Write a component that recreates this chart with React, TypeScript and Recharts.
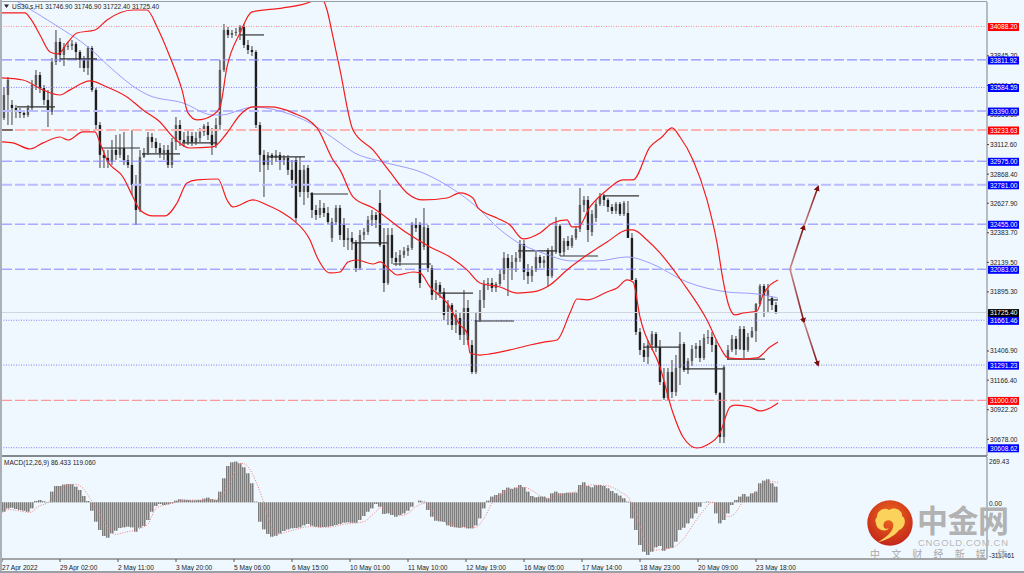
import { Bar, ComposedChart, Line, ReferenceLine, XAxis, YAxis } from 'recharts'

const FONT = '"Liberation Sans", Arial, sans-serif'

// US30 H1 candles, one for every second hour bar
const opens = [33332,33522,33440,33415,33382,33374,33357,33415,33605,33687,33580,33481,33382,33795,33960,33853,33919,33927,33944,33877,33811,33745,33910,33564,33274,33027,33002,32969,33068,33027,33084,32985,32944,32779,32572,33010,33043,33175,33134,33084,33043,33068,32944,33134,33274,33150,33134,33183,33134,33167,33217,33266,33192,33109,33274,33729,
  34059,34018,34034,34043,34084,33935,33894,33877,33274,33027,32944,33027,33002,33027,32985,33002,32903,32985,32903,32721,32919,32713,32572,32531,32589,32547,32341,32473,32589,32448,32324,32341,32308,32093,32366,32390,32490,32531,32630,32283,31969,32366,32176,32143,32200,32234,32258,32448,32448,32267,32423,32093,31911,31953,31895,31730,31787,31622,31680,31540,31763,31457,31234,31663,
  31829,31961,31969,31928,31961,32043,32176,32093,32143,32176,32291,32060,32027,32077,32184,32134,32242,32027,32225,32440,32225,32316,32275,32341,32415,32613,32655,32390,32506,32622,32688,32655,32597,32564,32622,32539,32547,32341,31994,31564,31416,31358,31457,31548,31440,31151,31019,31234,31069,31267,31465,31250,31325,31424,31449,31350,31515,31523,31457,31060,30697,31350,31416,31507,31424,31589,31416,31523,31573,31796,31944,31862,31845,31787]
const closes = [33522,33646,33415,33382,33374,33357,33415,33605,33687,33580,33481,33382,33795,33960,33853,33919,33927,33944,33877,33811,33745,33910,33564,33274,33027,33002,32969,33068,33027,33084,32985,32944,32779,32572,33010,33043,33175,33134,33084,33043,33068,32944,33134,33274,33150,33134,33183,33134,33167,33217,33266,33192,33109,33274,33729,34059,
  34018,34034,34043,34084,33935,33894,33877,33274,33027,32944,33027,33002,33027,32985,33002,32903,32820,32506,32721,32903,32721,32572,32531,32589,32547,32473,32473,32589,32366,32324,32341,32308,32093,32366,32390,32490,32531,32490,32283,31969,32366,32176,32143,32200,32234,32258,32448,32423,31969,32432,32093,31870,31969,31895,31705,31787,31622,31705,31540,31763,31498,31234,31663,31829,
  31961,31969,31928,31961,32043,32176,32093,32143,32176,32291,32060,32027,32077,32184,32134,32159,32027,32242,32440,32217,32316,32275,32341,32415,32613,32655,32407,32539,32622,32688,32655,32597,32564,32622,32539,32630,32341,31994,31564,31416,31358,31457,31548,31440,31151,31019,31234,31069,31267,31465,31250,31325,31424,31449,31350,31515,31523,31457,31060,30697,31275,31416,31507,31424,31589,31416,31523,31573,31796,31944,31862,31911,31787,31730]
const highs = [33588,33671,33481,33440,33415,33398,33440,33646,33729,33712,33605,33564,33828,34059,33993,33952,33960,33977,33960,33894,33844,33927,33927,33580,33299,33068,33068,33150,33192,33200,33217,33027,33233,32861,33068,33084,33217,33208,33167,33126,33109,33109,33167,33340,33316,33217,33233,33217,33217,33250,33283,33299,33250,33332,33811,34109,
  34084,34059,34076,34100,34109,33977,33927,33894,33299,33068,33051,33043,33068,33051,33027,33027,32985,33010,33010,32944,32944,32721,32613,32655,32630,32597,32506,32613,32613,32506,32423,32390,32324,32407,32423,32523,32572,32556,32737,32423,32423,32423,32225,32242,32267,32283,32473,32506,32473,32589,32448,32118,31994,31977,31928,31829,31804,31746,31730,31911,31829,31498,31730,31911,
  31994,32010,32010,31977,32077,32225,32209,32200,32225,32324,32324,32126,32110,32225,32200,32192,32258,32275,32514,32457,32341,32357,32366,32440,32754,32688,32688,32572,32655,32713,32705,32671,32622,32638,32638,32647,32647,32382,32010,31597,31473,31498,31573,31564,31498,31267,31267,31333,31374,31564,31482,31350,31457,31473,31498,31548,31581,31564,31498,31069,31292,31457,31540,31531,31614,31614,31556,31606,31804,31961,31961,31961,31862,31812]
const lows = [33316,33274,33274,33332,33332,33332,33340,33398,33564,33539,33440,33258,33357,33770,33795,33762,33894,33894,33811,33745,33712,33687,33547,33233,32919,32919,32919,32944,32985,33002,32944,32919,32696,32448,32556,33002,33027,33084,33043,33002,32985,32919,32919,33068,33101,33093,33109,33101,33109,33134,33183,33150,33027,33084,33233,33712,
  33993,33993,34010,33977,33910,33861,33844,33250,32886,32680,32903,32944,32969,32903,32944,32861,32754,32473,32680,32613,32671,32506,32490,32506,32514,32457,32308,32448,32324,32267,32242,32242,32060,32077,32324,32366,32440,32423,32267,31895,31953,32126,32110,32110,32176,32192,32242,32390,31928,32242,32060,31829,31829,31845,31663,31622,31581,31556,31498,31457,31457,31217,31217,31647,
  31763,31911,31895,31895,31944,31994,31862,31994,32060,32143,31994,31961,31977,32060,32093,32093,31936,32010,32209,32192,32192,32242,32258,32324,32390,32556,32308,32357,32473,32605,32605,32556,32539,32539,32523,32523,32341,32110,31540,31374,31316,31300,31416,31398,31127,31003,31003,31019,31036,31127,31234,31217,31283,31350,31316,31333,31465,31399,31044,30647,30647,31333,31399,31374,31416,31350,31399,31515,31482,31779,31688,31730,31746,31713]

// Bollinger bands and the moving average, read at their turning points
const upperBars = [0,11.5,14,19,24,28,33,37.5,46.5,52.5,65.5,72.5,77.5,84,90,93,97.5,105.5,109,112.5,119,125,140.5,154,159,162.5,165.5,169,175.5,185.5,194,202.5,210.5,222.5,229,235.5,238,247.5,254,260.5,269,275.5,282.5,285,288,294,302.5,310.5,315.5,324,330,335,339,345.5,352.5,357.5,360.5,363,366.5,370.5,377.5,380.5,388]
const upperValues = [34200,34200,34158,34018,33877,33861,33960,34034,34059,34142,34224,34224,34084,33836,33564,33374,33316,33357,33423,33754,34034,34208,34241,34290,34340,34224,34001,33729,33233,33068,32886,32713,32655,32671,32713,32671,32589,32506,32448,32333,32382,32465,32490,32432,32432,32597,32737,32820,32820,33093,33175,33250,33175,32985,32655,32300,31994,31804,31705,31721,31738,31870,31994]
const middleBars = [0,10.5,20.5,29,34,44,52.5,62.5,70.5,79,85.5,94,105.5,112.5,119,125.5,134,145.5,157.5,165.5,169,175.5,185.5,202.5,214,224,232.5,239,249,257.5,265.5,274,282.5,292.5,302.5,313,315.5,322.5,329,340.5,352.5,359,363,370.5,377.5,384,388]
const middleValues = [33663,33646,33564,33522,33564,33638,33588,33506,33398,33299,33175,33084,33093,33208,33357,33423,33423,33374,33250,32985,32903,32680,32589,32382,32267,32184,32077,31969,31936,31886,31895,31953,32077,32200,32308,32407,32407,32324,32217,31969,31663,31440,31350,31341,31350,31440,31482]
const lowerBars = [0,5.5,14,20.5,29,33,40.5,46.5,49,52.5,60.5,65.5,69,75.5,81.5,87.5,92.5,97.5,108,112.5,115.5,125.5,132.5,140.5,145.5,154,157.5,164,169,173,177.5,185.5,189,194,197.5,205.5,209,214,222.5,229,232.5,234,239,244,254,264,271.5,277.5,284,287.5,292.5,302.5,307.5,312.5,315.5,319,329,335.5,340.5,347.5,352.5,359,364,366.5,374,379,384,388]
const lowerValues = [33134,33126,33076,33126,33175,33150,33217,33217,33126,32985,32845,32680,32572,32523,32523,32630,32795,32820,32828,32655,32597,32655,32613,32547,32490,32324,32184,32052,32060,32143,32159,32126,32143,32077,32035,32060,32052,31936,31804,31622,31556,31391,31374,31383,31416,31457,31482,31498,31721,31837,31829,31895,31928,31994,31977,31688,31275,30895,30697,30606,30631,30730,30945,30961,30945,30912,30937,30978]
const maBars = [8,27.5,43,55.5,67.5,73,90.5,105.5,110,119,125.5,140.5,154,169,175.5,190.5,210.5,220.5,239,247.5,257.5,269,285.5,297.5,312.5,324,342.5,362.5,377.5,388]
const maValues = [34290,34092,33919,33729,33572,33522,33456,33357,33357,33398,33423,33382,33291,33126,33051,32969,32878,32795,32572,32432,32308,32225,32151,32151,32184,32134,31977,31895,31878,31845]

// short horizontal black trend segments
const segmentStarts = [0,7.5,29,49,70,90,119,132.5,154,175,195.5,217.5,236.5,258,279,300.5,320.5,341.5,362.5,383]
const segmentEnds = [5.5,26.5,47.5,69,89,107.5,131,151.5,173,193,214.5,235.5,256,277.5,298,318.5,339,361.5,381.5,388]
const segmentPrices = [33233,33423,33820,33084,33035,33126,34018,33010,32704,32300,32126,31886,31655,32234,32192,32688,31440,31259,31341,31829]

// drawn price levels on the right scale
const levelPrices = [34088.2,33811.92,33584.59,33390,33233.63,32975,32781,32455,32083,31661.46,31291.23,31000,30608.62]
const levelStrokes = ['#ff8c8c','#8f8fff','#8080ff','#babcff','#ffb4b4','#8383ff','#babcff','#8383ff','#8383ff','#8080ff','#8080ff','#ff8080','#8080ff']
const levelWidths = [1,1.2,1,2,2,1,2,1,1,1,1,1,1]
const levelDashes = ['1 1.5','10 3','1 1.5','10 3','10 3','10 3','10 3','10 3','10 3','1 1.5','1 1.5','10 3','1 1.5']
const levelTags = ['#ff0000','#0000ff','#0000ff','#0000ff','#ff0000','#0000ff','#0000ff','#0000ff','#0000ff','#0000ff','#0000ff','#ff0000','#0000ff']
const lastPrice = 31725.4

const priceTicks = [33845.2,33601,33356.8,33112.6,32868.4,32627.9,32383.7,32139.5,31895.3,31406.9,31166.4,30922.2,30678]

// hand drawn forecast arrows
const arrowBars = [394,401,408]
const arrowUp = [32085,32440,32762]
const arrowDown = [32085,31647,31292]

// MACD histogram, same bars as the candles
const macdHist = [-56,-36,-32,-40,-46,-50,-56,-36,8,14,6,-2,64,98,98,106,110,108,94,74,38,8,-50,-116,-166,-202,-212,-186,-170,-154,-150,-146,-150,-176,-152,-142,-106,-56,-22,-10,-16,-12,-6,10,18,16,14,12,12,14,22,28,20,14,64,144,218,240,244,234,210,174,114,4,-116,-162,-190,-206,-200,-186,-172,-162,-156,-154,-150,-138,-130,-140,-146,-150,-148,-146,-142,-136,-130,-122,-120,-122,-122,-106,-82,-56,-36,-10,-26,-70,-66,-76,-86,
  -76,-66,-50,-26,0,10,4,-46,-86,-110,-114,-116,-138,-146,-150,-152,-148,-156,-156,-138,-96,-36,10,34,44,54,74,88,80,88,104,90,64,38,30,34,34,24,54,64,54,54,58,58,58,104,120,98,90,102,104,98,84,68,54,40,24,4,-96,-166,-256,-296,-316,-296,-270,-262,-290,-278,-272,-236,-166,-152,-126,-96,-66,-26,-2,4,-2,-66,-126,-106,-66,-16,14,34,50,34,54,64,114,130,138,114,94]
const signalBars = [0,2.3,5.7,14,18,23,27,32,36.5,41,44,48,52,56.5,61.5,69,73,77,81.5,87,94,102,108,112,117,120,123,127,131,134,138,144,154,162,172,181,186,190,194,198,199,203,207,211.5,217,224,230,236.5,241,245,249,254,261,266,272,279,287,294,302,309,314,317,321.5,326.5,336,341,346,351,355,359,363,366.5,371,376,381,384,388]
const signalValues = [-66,-42,-46,-60,-26,0,44,100,108,78,24,-46,-136,-192,-180,-156,-130,-36,-16,0,14,14,18,74,194,234,214,124,-6,-126,-190,-172,-146,-150,-130,-116,-66,-30,-36,-76,-80,-66,-26,-6,-86,-130,-152,-150,-96,-6,44,78,90,64,24,44,64,104,100,64,14,-66,-226,-286,-266,-216,-126,-46,0,-36,-86,-66,14,54,104,124,120]

const timeBars = [0,29,58,87,116,145,174,203,232,261,290,319,348,377]
const timeLabels = ['27 Apr 2022','29 Apr 02:00','2 May 11:00','3 May 20:00','5 May 06:00','6 May 15:00','10 May 01:00','11 May 10:00','12 May 19:00','16 May 05:00','17 May 14:00','18 May 23:00','20 May 09:00','23 May 18:00']

const candles = closes.map((close, i) => ({
  bar: 1 + i * 2,
  open: opens[i],
  close,
  high: highs[i],
  low: lows[i],
  range: [lows[i], highs[i]],
}))
const macdRows = macdHist.map((hist, i) => ({ bar: 1 + i * 2, hist }))

const toLine = (bars: number[], values: number[]) => bars.map((bar, i) => ({ bar, v: values[i] }))

function Candle(props: any) {
  const { x, y, width, height, payload } = props
  const k = height / (payload.high - payload.low)
  const cx = x + width / 2
  const top = y + (payload.high - Math.max(payload.open, payload.close)) * k
  const bottom = y + (payload.high - Math.min(payload.open, payload.close)) * k
  const down = payload.close < payload.open
  return (
    <g>
      <line x1={cx} x2={cx} y1={y} y2={y + height} stroke="#8f8f8f" strokeWidth={1.8} />
      <rect x={cx - 1.2} y={top} width={2.4} height={Math.max(bottom - top, 1)} fill={down ? '#1f1f1f' : '#5c5c5c'} />
    </g>
  )
}

// one slot of the histogram covers two terminal bars, hence the two stripes
function HistStripes(props: any) {
  const { x, y, width, height } = props
  const cx = Math.round(x + width / 2)
  const h = Math.abs(height)
  const top = height < 0 ? y + height : y
  return (
    <g>
      <rect x={cx - 2} y={top} width={4} height={h} fill="#b6b6b6" />
      <rect x={cx - 2} y={top} width={1} height={h} fill="#7c7c7c" />
      <rect x={cx} y={top} width={1} height={h} fill="#7c7c7c" />
    </g>
  )
}

function PriceTick({ y, payload }: any) {
  const value = payload.value
  const levelIndex = levelPrices.indexOf(value)
  const isLast = value === lastPrice
  if (levelIndex < 0 && !isLast) {
    return (
      <g>
        <line x1={987} x2={989} y1={y} y2={y} stroke="#444" />
        <text x={990} y={y + 2.4} fontSize={6.6} fontFamily={FONT} fill="#222">
          {value.toFixed(2)}
        </text>
      </g>
    )
  }
  return (
    <g>
      <rect x={988} y={y - 3.4} width={31} height={8} fill={isLast ? '#000' : levelTags[levelIndex]} />
      <text x={990} y={y + 3} fontSize={6.6} fontFamily={FONT} fill="#fff">
        {value.toFixed(2)}
      </text>
    </g>
  )
}

function MacdTick({ y, payload }: any) {
  const dy = payload.value > 100 ? 4 : 1
  const label = payload.value > 100 ? '269.43' : payload.value < 0 ? '-311.461' : '0.00'
  return (
    <text x={989} y={y + dy + 2.4} fontSize={6.6} fontFamily={FONT} fill="#222">
      {label}
    </text>
  )
}

function TimeTick({ x, y, payload }: any) {
  return (
    <g>
      <line x1={x} x2={x} y1={y - 8} y2={y - 5} stroke="#555" />
      <text x={x} y={y + 2.5} fontSize={6.6} fontFamily={FONT} fill="#222">
        {timeLabels[timeBars.indexOf(payload.value)]}
      </text>
    </g>
  )
}

function Watermark() {
  return (
    <svg width={1024} height={573} style={{ position: 'absolute', left: 0, top: 0, pointerEvents: 'none' }}>
      <defs>
        <radialGradient id="logoFill" cx="50%" cy="35%" r="65%">
          <stop offset="0%" stopColor="#ee6a1c" />
          <stop offset="100%" stopColor="#c4261a" />
        </radialGradient>
      </defs>
      <circle cx={890} cy={523} r={22.7} fill="url(#logoFill)" />
      <path
        d="M877 517 C877 510 885 507 889 510 C894 506 903 510 902 516 C907 519 905 528 899 530 C894 537 884 541 878 542 C885 538 892 533 893 527 C895 520 886 518 884 523 C882 528 886 530 889 528 C886 533 876 530 876 523 C875 521 875 519 877 517 Z"
        fill="#fbd35c"
      />
      <text x={917} y={532} fontSize={31} fontWeight={700} fontFamily='"Noto Sans CJK SC"' fill="#b2b2b2" textLength={92}>
        中金网
      </text>
      <text x={918} y={545.5} fontSize={9.5} fontFamily={FONT} fill="#b8b8b8" textLength={90}>
        CNGOLD.COM.CN
      </text>
      <text x={870} y={558} fontSize={10} fontFamily='"Noto Sans CJK SC"' fill="#a8a8a8" textLength={137}>
        中文财经新媒体
      </text>
    </svg>
  )
}

export default function App() {
  return (
    <div style={{ position: 'absolute', left: 0, top: 0, width: 1024, height: 573, overflow: 'hidden', background: '#f0f8ff' }}>
      <div style={{ position: 'absolute', left: 0, top: 0 }}>
        <ComposedChart width={1024} height={457} data={candles} margin={{ top: 2, right: 0, bottom: 1, left: 2 }}>
          <defs>
            <linearGradient id="arrowGradUp" x1="0" y1="1" x2="0" y2="0">
              <stop offset="0%" stopColor="#c98a8a" />
              <stop offset="100%" stopColor="#7d0f0f" />
            </linearGradient>
            <linearGradient id="arrowGradDown" x1="0" y1="0" x2="0" y2="1">
              <stop offset="0%" stopColor="#c98a8a" />
              <stop offset="100%" stopColor="#7d0f0f" />
            </linearGradient>
            <marker id="arrowHead" markerWidth="6" markerHeight="6" refX="4" refY="3" orient="auto" markerUnits="userSpaceOnUse">
              <path d="M0 0 L6 3 L0 6 Z" fill="#7d0f0f" />
            </marker>
          </defs>
          <XAxis type="number" dataKey="bar" domain={[0, 492.5]} hide />
          <YAxis
            orientation="right"
            width={37}
            domain={[30540, 34290]}
            allowDataOverflow
            ticks={[...priceTicks, lastPrice, ...levelPrices]}
            interval={0}
            tick={<PriceTick />}
            tickLine={false}
            axisLine={{ stroke: '#b4bcc4', strokeWidth: 2 }}
          />
          {levelPrices.map((price, i) => (
            <ReferenceLine key={price} y={price} stroke={levelStrokes[i]} strokeWidth={levelWidths[i]} strokeDasharray={levelDashes[i]} />
          ))}
          <ReferenceLine y={lastPrice} stroke="#cfd6dd" />
          <Bar dataKey="range" barSize={3} shape={<Candle />} isAnimationActive={false} />
          {segmentStarts.map((start, i) => (
            <ReferenceLine
              key={start}
              segment={[{ x: start, y: segmentPrices[i] }, { x: segmentEnds[i], y: segmentPrices[i] }]}
              stroke="#333"
              strokeWidth={1.2}
            />
          ))}
          <Line data={toLine(maBars, maValues)} type="monotone" dataKey="v" stroke="#9c9cff" strokeWidth={1} dot={false} isAnimationActive={false} />
          <Line data={toLine(upperBars, upperValues)} type="monotone" dataKey="v" stroke="#f41c1c" strokeWidth={1.2} dot={false} isAnimationActive={false} />
          <Line data={toLine(middleBars, middleValues)} type="monotone" dataKey="v" stroke="#f41c1c" strokeWidth={1.2} dot={false} isAnimationActive={false} />
          <Line data={toLine(lowerBars, lowerValues)} type="monotone" dataKey="v" stroke="#f41c1c" strokeWidth={1.2} dot={false} isAnimationActive={false} />
          <Line data={toLine(arrowBars.slice(0, 2), arrowUp.slice(0, 2))} dataKey="v" stroke="url(#arrowGradUp)" strokeWidth={1.6} dot={false} markerEnd="url(#arrowHead)" isAnimationActive={false} />
          <Line data={toLine(arrowBars.slice(1), arrowUp.slice(1))} dataKey="v" stroke="url(#arrowGradUp)" strokeWidth={1.6} dot={false} markerEnd="url(#arrowHead)" isAnimationActive={false} />
          <Line data={toLine(arrowBars.slice(0, 2), arrowDown.slice(0, 2))} dataKey="v" stroke="url(#arrowGradDown)" strokeWidth={1.6} dot={false} markerEnd="url(#arrowHead)" isAnimationActive={false} />
          <Line data={toLine(arrowBars.slice(1), arrowDown.slice(1))} dataKey="v" stroke="url(#arrowGradDown)" strokeWidth={1.6} dot={false} markerEnd="url(#arrowHead)" isAnimationActive={false} />
        </ComposedChart>
      </div>
      <div style={{ position: 'absolute', left: 0, top: 457 }}>
        <ComposedChart width={1024} height={116} data={macdRows} margin={{ top: 0, right: 0, bottom: 0, left: 2 }}>
          <XAxis
            type="number"
            dataKey="bar"
            domain={[0, 492.5]}
            ticks={timeBars}
            interval={0}
            height={14}
            tick={<TimeTick />}
            tickLine={false}
            axisLine={{ stroke: '#8a8a8a', strokeWidth: 1.5 }}
          />
          <YAxis
            orientation="right"
            width={37}
            domain={[-340, 272]}
            ticks={[269.43, 0, -311.461]}
            interval={0}
            tick={<MacdTick />}
            tickLine={false}
            axisLine={{ stroke: '#b4bcc4', strokeWidth: 2 }}
          />
          <Bar dataKey="hist" barSize={3} shape={<HistStripes />} isAnimationActive={false} />
          <Line data={toLine(signalBars, signalValues)} type="monotone" dataKey="v" stroke="#ee7f7f" strokeWidth={1} strokeDasharray="1 1.5" dot={false} isAnimationActive={false} />
        </ComposedChart>
      </div>
      {/* terminal frame and pane captions */}
      <div style={{ position: 'absolute', left: 0, top: 0, width: 2, height: 573, background: '#aab0b6' }} />
      <div style={{ position: 'absolute', left: 2, top: 1, width: 985, height: 1, background: '#9aa0a6' }} />
      <div style={{ position: 'absolute', left: 2, top: 455, width: 985, height: 2, background: '#84898e' }} />
      <div style={{ position: 'absolute', left: 0, top: 571, width: 1024, height: 2, background: '#9aa0a6' }} />
      <svg width={1024} height={573} style={{ position: 'absolute', left: 0, top: 0, pointerEvents: 'none' }}>
        <path d="M4 4.5 L9 4.5 L6.5 8 Z" fill="#222" />
        <text x={12} y={9} fontSize={6.5} fontFamily={FONT} fill="#222">
          US30.s,H1  31746.90 31746.90 31722.40 31725.40
        </text>
        <text x={4} y={464.5} fontSize={6.5} fontFamily={FONT} fill="#222">
          MACD(12,26,9) 86.433 119.060
        </text>
      </svg>
      <Watermark />
    </div>
  )
}
